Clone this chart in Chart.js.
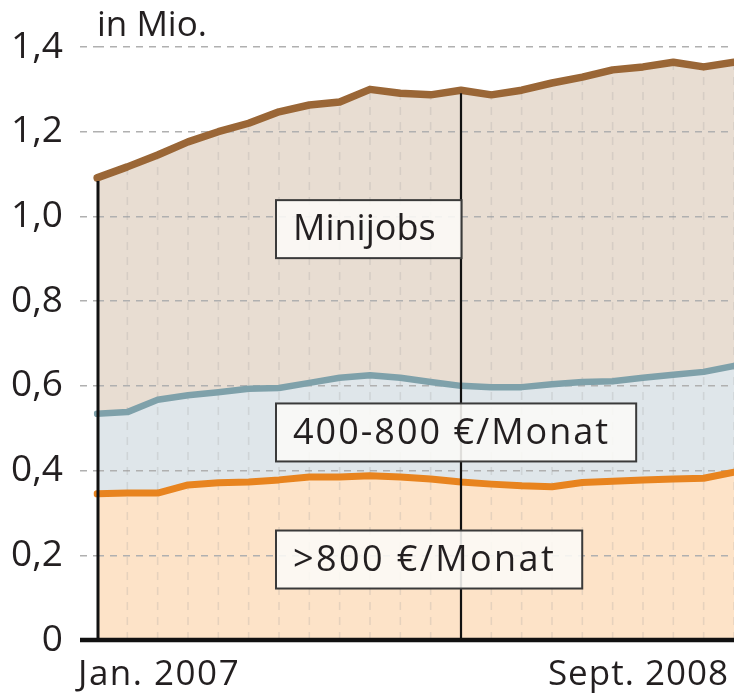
<!DOCTYPE html>
<html>
<head>
<meta charset="utf-8">
<script src="https://cdn.jsdelivr.net/npm/chart.js@4/dist/chart.umd.min.js"></script>
<style>
  html, body { margin: 0; padding: 0; background: #ffffff; }
  #wrap { width: 734px; height: 695px; position: relative; background: #ffffff; }
  canvas { background: #ffffff; }
</style>
</head>
<body>
<div id="wrap"><canvas id="c" width="734" height="695"></canvas></div>
<script>
// Categories: months (Jan. 2007 onward)
const months = [
  "Jan. 2007","Feb. 2007","März 2007","Apr. 2007","Mai 2007","Juni 2007",
  "Juli 2007","Aug. 2007","Sept. 2007","Okt. 2007","Nov. 2007","Dez. 2007",
  "Jan. 2008","Feb. 2008","März 2008","Apr. 2008","Mai 2008","Juni 2008",
  "Juli 2008","Aug. 2008","Sept. 2008","Okt. 2008"
];
// Series levels (in Mio.)
const over800 = [0.345,0.347,0.347,0.366,0.371,0.373,0.378,0.385,0.385,0.388,0.385,0.380,
                 0.373,0.368,0.364,0.362,0.372,0.375,0.378,0.380,0.382,0.396];
const from400to800 = [0.534,0.538,0.567,0.578,0.585,0.593,0.595,0.607,0.619,0.625,0.619,0.609,
                      0.600,0.597,0.597,0.604,0.609,0.611,0.619,0.626,0.633,0.647];
const minijobs = [1.091,1.117,1.145,1.176,1.200,1.220,1.247,1.263,1.270,1.300,1.291,1.287,
                  1.298,1.287,1.298,1.315,1.329,1.346,1.353,1.364,1.353,1.364];
// Tick labels
const yTickValues = [0, 0.2, 0.4, 0.6, 0.8, 1.0, 1.2, 1.4];
const yTickLabels = ["0","0,2","0,4","0,6","0,8","1,0","1,2","1,4"];
const xTickLabels = ["Jan. 2007", "Sept. 2008"];
const unitLabel = "in Mio.";
const seriesNames = [">800 €/Monat", "400-800 €/Monat", "Minijobs"];
// Box anchors: [category index, value at box centre]
const boxAnchors = [[6, 0.19], [6, 0.49], [6, 0.97]];
const markerIndices = [0, 12];

const FONT = "'Open Sans', 'DejaVu Sans', sans-serif";
const TEXT = "#231f20";

const overlay = {
  id: 'overlay',
  beforeDatasetsDraw(chart) {
    const ctx = chart.ctx, xs = chart.scales.x, ys = chart.scales.y;
    // light vertical dashed month lines inside the filled area only
    ctx.save();
    ctx.strokeStyle = 'rgba(150,150,150,0.22)';
    ctx.lineWidth = 1.5;
    ctx.setLineDash([8, 7]);
    for (let i = 1; i < months.length; i++) {
      const x = xs.getPixelForValue(i);
      ctx.beginPath();
      ctx.moveTo(x, ys.getPixelForValue(0));
      ctx.lineTo(x, ys.getPixelForValue(minijobs[i]) + 4);
      ctx.stroke();
    }
    ctx.restore();
  },
  afterDatasetsDraw(chart) {
    const ctx = chart.ctx, xs = chart.scales.x, ys = chart.scales.y;
    const area = chart.chartArea;
    ctx.save();
    // black marker lines (Jan. 2007 / Jan. 2008)
    ctx.strokeStyle = '#111';
    markerIndices.forEach((idx, k) => {
      const x = xs.getPixelForValue(idx) + (k === 0 ? 1 : 0);
      ctx.lineWidth = k === 0 ? 3 : 2.2;
      ctx.beginPath();
      ctx.moveTo(x, ys.getPixelForValue(0));
      ctx.lineTo(x, ys.getPixelForValue(minijobs[idx]) + 3);
      ctx.stroke();
    });
    // baseline
    ctx.lineWidth = 4.5;
    ctx.beginPath();
    ctx.moveTo(area.left - 17, ys.getPixelForValue(0));
    ctx.lineTo(area.right, ys.getPixelForValue(0));
    ctx.stroke();

    // labelled boxes
    ctx.font = "36px " + FONT;
    ctx.textBaseline = 'middle';
    ctx.textAlign = 'left';
    const spacing = ['2.4px', '2px', '0px'];
    seriesNames.forEach((name, k) => {
      const [ci, v] = boxAnchors[k];
      ctx.letterSpacing = spacing[k];
      const left = xs.getPixelForValue(ci) - 3;
      const cy = ys.getPixelForValue(v);
      const w = ctx.measureText(name).width + 17 + 26;
      const h = 58;
      ctx.fillStyle = 'rgba(252,250,247,0.88)';
      ctx.fillRect(left, cy - h / 2, w, h);
      ctx.strokeStyle = '#3a3a3a';
      ctx.lineWidth = 2;
      ctx.strokeRect(left, cy - h / 2, w, h);
      ctx.fillStyle = TEXT;
      ctx.fillText(name, left + 17, cy + 1);
    });

    // x labels
    ctx.textBaseline = 'alphabetic';
    ctx.font = "35px " + FONT;
    ctx.fillStyle = TEXT;
    ctx.textAlign = 'left';
    ctx.letterSpacing = '1.5px';
    ctx.fillText(xTickLabels[0], area.left - 19, 685);
    ctx.textAlign = 'right';
    ctx.letterSpacing = '1px';
    ctx.fillText(xTickLabels[1], area.right - 5, 685);

    // unit label
    ctx.textAlign = 'left';
    ctx.letterSpacing = '0px';
    ctx.fillText(unitLabel, area.left, 36);
    ctx.restore();
  }
};

new Chart(document.getElementById('c'), {
  type: 'line',
  data: {
    labels: months,
    datasets: [
      { label: seriesNames[0], data: over800, borderColor: '#e8841f', backgroundColor: '#fde3c8',
        borderWidth: 7, fill: 'origin', pointRadius: 0, tension: 0, borderJoinStyle: 'round', borderCapStyle: 'round' },
      { label: seriesNames[1], data: from400to800, borderColor: '#7fa1aa', backgroundColor: '#dfe6ea',
        borderWidth: 6.5, fill: 'origin', pointRadius: 0, tension: 0, borderJoinStyle: 'round', borderCapStyle: 'round' },
      { label: seriesNames[2], data: minijobs, borderColor: '#9a6636', backgroundColor: '#e8ddd2',
        borderWidth: 7.5, fill: 'origin', pointRadius: 0, tension: 0, borderJoinStyle: 'round', borderCapStyle: 'round' }
    ]
  },
  options: {
    responsive: false,
    animation: false,
    layout: { padding: { top: 47, right: 0, bottom: 0, left: 0 } },
    plugins: {
      legend: { display: false },
      tooltip: { enabled: false },
      filler: { drawTime: 'beforeDraw' }
    },
    scales: {
      x: {
        type: 'category',
        offset: false,
        grid: { display: false },
        border: { display: false },
        ticks: { display: false },
        afterFit(s) { s.height = 55; }
      },
      y: {
        min: 0, max: 1.4,
        afterBuildTicks(s) { s.ticks = yTickValues.map(v => ({ value: v })); },
        ticks: {
          padding: 17,
          color: TEXT,
          font: { family: FONT, size: 37 },
          callback: (v, i) => yTickLabels[i]
        },
        grid: {
          color: '#b0b0b0', lineWidth: 1.5, tickLength: 17,
          tickColor: '#b0b0b0', tickWidth: 1.5,
          tickBorderDash: [7, 6]
        },
        border: { display: false, dash: [7, 6] },
        afterFit(s) { s.width = 97; }
      }
    }
  },
  plugins: [overlay]
});
</script>
</body>
</html>
